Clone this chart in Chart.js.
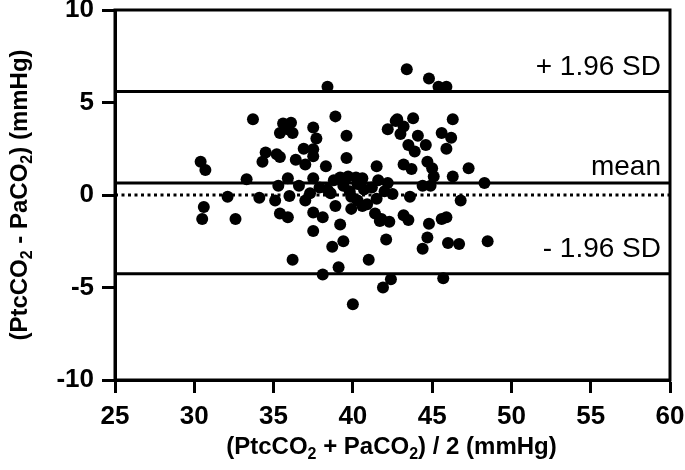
<!DOCTYPE html>
<html>
<head>
<meta charset="utf-8">
<script src="https://cdn.jsdelivr.net/npm/chart.js@4/dist/chart.umd.min.js"></script>
<style>
  html, body { margin: 0; padding: 0; background: #fff; }
</style>
</head>
<body>
<canvas id="chart" width="685" height="470"></canvas>
<script>
// Bland-Altman: mean of the two methods (x) vs difference (y)
const avgValues = [
  38.4, 43.4, 44.8, 45.4, 45.9, 38.9, 35.6, 35.9, 36.2, 37.5,
  37.7, 39.6, 36.9, 37.5, 37.5, 36.4, 37.0, 35.4, 38.3, 39.6,
  41.5, 42.2, 42.7, 35.9, 37.5, 39.2, 39.7, 40.2, 40.6, 42.8,
  43.8, 43.2, 43.0, 44.1, 43.5, 43.9, 44.6, 46.3, 45.6, 46.2,
  45.9, 43.2, 43.7, 44.7, 45.0, 45.1, 47.3, 46.3, 48.3, 42.2,
  44.4, 42.5, 43.6, 46.8, 41.7, 42.3, 43.2, 43.5, 44.8, 45.6,
  45.9, 42.1, 44.7, 44.4, 46.0, 46.7, 48.5, 42.4, 41.9, 45.7,
  36.0, 37.0, 38.9, 39.9, 35.4, 35.9, 37.5, 38.1, 39.2, 37.5,
  39.4, 38.7, 36.2, 41.0, 39.1, 38.1, 40.0, 41.4, 41.8, 40.9,
  41.5, 38.4, 30.4, 30.7, 33.3, 32.1, 34.1, 30.6, 30.5, 32.6,
  35.1, 35.3, 34.5, 34.3, 35.2, 33.7, 35.4, 39.4, 39.8, 40.3,
  40.7, 39.9, 40.3, 41.2, 41.6, 38.6, 37.9, 37.3, 36.6, 42.0,
  40.6, 38.8, 36.1, 44.9
];
const diffValues = [
  5.85, 6.8, 6.3, 5.85, 5.85, 4.25, 3.87, 3.55, 3.35, 3.65,
  3.06, 3.2, 2.5, 2.47, 2.1, 1.9, 1.65, 2.05, 1.55, 2.0,
  1.55, 3.55, 4.0, 0.9, 0.9, 0.95, 1.0, 0.95, 0.9, 4.1,
  4.15, 3.7, 3.3, 3.2, 2.7, 2.35, 2.7, 4.1, 3.35, 3.1,
  2.5, 1.65, 1.4, 1.8, 1.45, 1.0, 1.45, 1.0, 0.65, 0.65,
  0.5, 0.05, -0.1, -0.3, -1.4, -1.45, -1.1, -1.35, -1.55, -1.3,
  -1.2, -2.4, -2.3, -2.9, -2.6, -2.65, -2.5, -4.55, -5.0, -4.5,
  -0.05, -0.3, -0.6, -0.75, -1.0, -1.2, -0.95, -1.2, -1.6, -1.95,
  -2.5, -2.8, -3.5, -3.5, -3.9, -4.3, -5.9, -1.0, -1.3, -0.5,
  -0.2, 0.3, 1.8, 1.35, 0.85, -0.1, -0.15, -0.65, -1.3, -1.3,
  -0.3, 0.5, 2.3, 1.8, 2.2, 4.1, 3.35, 0.5, 0.2, 0.6,
  0.3, -0.1, -0.3, 0.4, 0.8, 0.1, 0.4, 0.1, 0.5, 0.2,
  -0.6, 0.8, 3.9, 0.5
];

const meanDiff = 0.65;
const upperLoA = 5.6;
const lowerLoA = -4.25;

const xMin = 25, xMax = 60, xStep = 5;
const yMin = -10, yMax = 10, yStep = 5;

const lineLabels = ["+ 1.96 SD", "mean", "- 1.96 SD"];
const lineValues = [upperLoA, meanDiff, lowerLoA];

const xTitle = [["(PtcCO", false], ["2", true], [" + PaCO", false], ["2", true], [") / 2 (mmHg)", false]];
const yTitle = [["(PtcCO", false], ["2", true], [" - PaCO", false], ["2", true], [") (mmHg)", false]];

const FONT = "'Liberation Sans', Arial, sans-serif";

const points = avgValues.map((x, i) => ({ x: x, y: diffValues[i] }));
const hLine = (v) => [{ x: xMin, y: v }, { x: xMax, y: v }];

function drawSubText(ctx, parts, cx, cy, size) {
  const subSize = Math.round(size * 0.65);
  let total = 0;
  parts.forEach(([t, sub]) => {
    ctx.font = "bold " + (sub ? subSize : size) + "px " + FONT;
    total += ctx.measureText(t).width;
  });
  let x = cx - total / 2;
  ctx.textAlign = "left";
  ctx.textBaseline = "middle";
  parts.forEach(([t, sub]) => {
    ctx.font = "bold " + (sub ? subSize : size) + "px " + FONT;
    ctx.fillText(t, x, sub ? cy + size * 0.3 : cy);
    x += ctx.measureText(t).width;
  });
}

const decorPlugin = {
  id: "decor",
  afterDraw(chart) {
    const ctx = chart.ctx;
    const a = chart.chartArea;
    const ys = chart.scales.y;
    ctx.save();
    ctx.strokeStyle = "#000";
    ctx.lineWidth = 3;
    ctx.strokeRect(a.left, a.top, a.right - a.left, a.bottom - a.top);

    // line labels
    ctx.fillStyle = "#000";
    ctx.font = "28px " + FONT;
    ctx.textAlign = "right";
    ctx.textBaseline = "alphabetic";
    const offsets = [16, 8, 17];
    lineLabels.forEach((lbl, i) => {
      ctx.fillText(lbl, a.right - 9, ys.getPixelForValue(lineValues[i]) - offsets[i]);
    });

    // axis titles
    drawSubText(ctx, xTitle, (a.left + a.right) / 2 - 1, 447, 24);
    ctx.translate(20, (a.top + a.bottom) / 2);
    ctx.rotate(-Math.PI / 2);
    drawSubText(ctx, yTitle, 0, 0, 24);
    ctx.restore();
  }
};

const tickFont = { family: FONT, size: 26, weight: "bold" };

new Chart(document.getElementById("chart"), {
  type: "scatter",
  data: {
    datasets: [
      {
        data: points,
        backgroundColor: "#000",
        borderWidth: 0,
        pointRadius: 6,
        pointHoverRadius: 6
      },
      {
        type: "line",
        data: hLine(0),
        borderColor: "#000",
        borderWidth: 3,
        borderDash: [3, 3.5],
        pointRadius: 0
      },
      {
        type: "line",
        data: hLine(upperLoA),
        borderColor: "#000",
        borderWidth: 3,
        pointRadius: 0
      },
      {
        type: "line",
        data: hLine(meanDiff),
        borderColor: "#000",
        borderWidth: 3,
        pointRadius: 0
      },
      {
        type: "line",
        data: hLine(lowerLoA),
        borderColor: "#000",
        borderWidth: 3,
        pointRadius: 0
      }
    ]
  },
  options: {
    responsive: false,
    animation: false,
    events: [],
    layout: { padding: { top: 10, right: 15, left: 0, bottom: 0 } },
    plugins: { legend: { display: false }, tooltip: { enabled: false } },
    scales: {
      x: {
        min: xMin,
        max: xMax,
        ticks: { stepSize: xStep, color: "#000", font: tickFont, padding: 8, maxRotation: 0 },
        grid: { drawOnChartArea: false, drawTicks: true, tickLength: 13, tickWidth: 3, tickColor: "#000" },
        border: { color: "#000", width: 3 },
        afterFit(s) { s.height = 90; s.paddingLeft = 0; s.paddingRight = 0; }
      },
      y: {
        min: yMin,
        max: yMax,
        ticks: { stepSize: yStep, color: "#000", font: tickFont, padding: 8 },
        grid: { drawOnChartArea: false, drawTicks: true, tickLength: 13, tickWidth: 3, tickColor: "#000" },
        border: { color: "#000", width: 3 },
        afterFit(s) { s.width = 115; s.paddingTop = 0; s.paddingBottom = 0; }
      }
    }
  },
  plugins: [decorPlugin]
});
</script>
</body>
</html>
